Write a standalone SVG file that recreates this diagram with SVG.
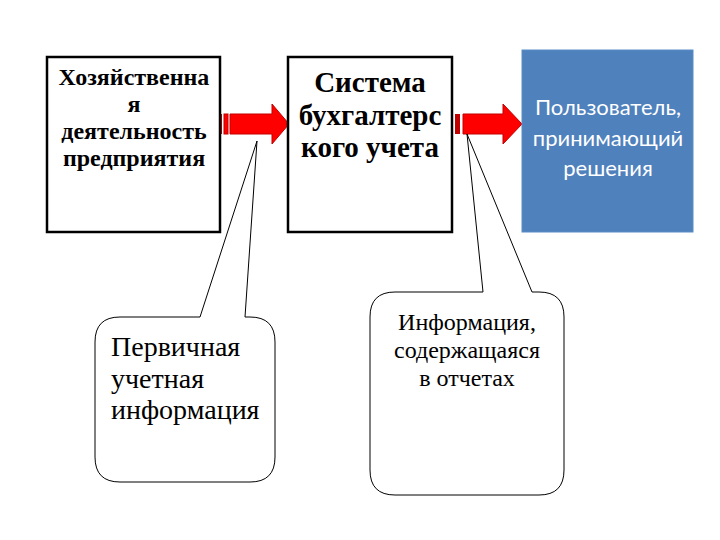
<svg xmlns="http://www.w3.org/2000/svg" width="720" height="540" viewBox="0 0 720 540">
<style>
.box{fill:#fff;stroke:#000;stroke-width:2.5}
.call{fill:#fff;stroke:#000;stroke-width:1}
.arr{fill:#f00;stroke:#c00000;stroke-width:1}
.stripe{fill:#c00000}
.b{font-family:"Liberation Serif","Times New Roman",serif;font-weight:bold;fill:#000;text-anchor:middle}
.r{font-family:"Liberation Serif","Times New Roman",serif;fill:#000}
.w{font-family:Lato,"Open Sans",sans-serif;fill:#fff;text-anchor:middle}
</style>
<rect width="720" height="540" fill="#fff"/>
<g id="connectors">
<g id="arrow1">
<rect class="stripe" x="217" y="114" width="5" height="20"/>
<rect class="arr" x="224" y="114" width="4" height="20"/>
<path class="arr" d="M230,114 H272 V104 L289,124 L272,144 V134 H230 Z"/>
</g>
<g id="arrow2">
<rect class="stripe" x="455" y="114" width="5" height="20"/>
<path class="arr" d="M463,114 H503 V104 L522,124 L503,144 V134 H463 Z"/>
</g>
</g>
<g id="node-activity">
<rect class="box" x="47" y="57" width="173" height="175"/>
<text class="b" font-size="24"><tspan x="134" y="85">Хозяйственна</tspan><tspan x="134" y="112">я</tspan><tspan x="134" y="139">деятельность</tspan><tspan x="134" y="166">предприятия</tspan></text>
</g>
<g id="node-system">
<rect class="box" x="288" y="57" width="164" height="175"/>
<text class="b" font-size="29"><tspan x="370" y="92">Система</tspan><tspan x="370" y="125">бухгалтерс</tspan><tspan x="370" y="157">кого учета</tspan></text>
</g>
<g id="node-user">
<rect x="522" y="50" width="171" height="182" fill="#4f81bd" stroke="#5b8cc6" stroke-width="1"/>
<text class="w" font-size="22"><tspan x="608" y="115">Пользователь,</tspan><tspan x="608" y="146">принимающий</tspan><tspan x="608" y="176">решения</tspan></text>
</g>
<g id="callout-primary">
<path class="call" d="M120,317 H200 L257,141 L245,317 H250 Q275,317 275,342 V457 Q275,482 250,482 H120 Q95,482 95,457 V342 Q95,317 120,317 Z"/>
<text class="r" font-size="28"><tspan x="111" y="356">Первичная</tspan><tspan x="111" y="388">учетная</tspan><tspan x="111" y="419">информация</tspan></text>
</g>
<g id="callout-reports">
<path class="call" d="M395,292 H483 L467,134 L532,292 H539 Q564,292 564,317 V470 Q564,495 539,495 H395 Q370,495 370,470 V317 Q370,292 395,292 Z"/>
<text class="r" font-size="24" text-anchor="middle"><tspan x="467" y="330">Информация,</tspan><tspan x="467" y="358">содержащаяся</tspan><tspan x="467" y="386">в отчетах</tspan></text>
</g>
</svg>
